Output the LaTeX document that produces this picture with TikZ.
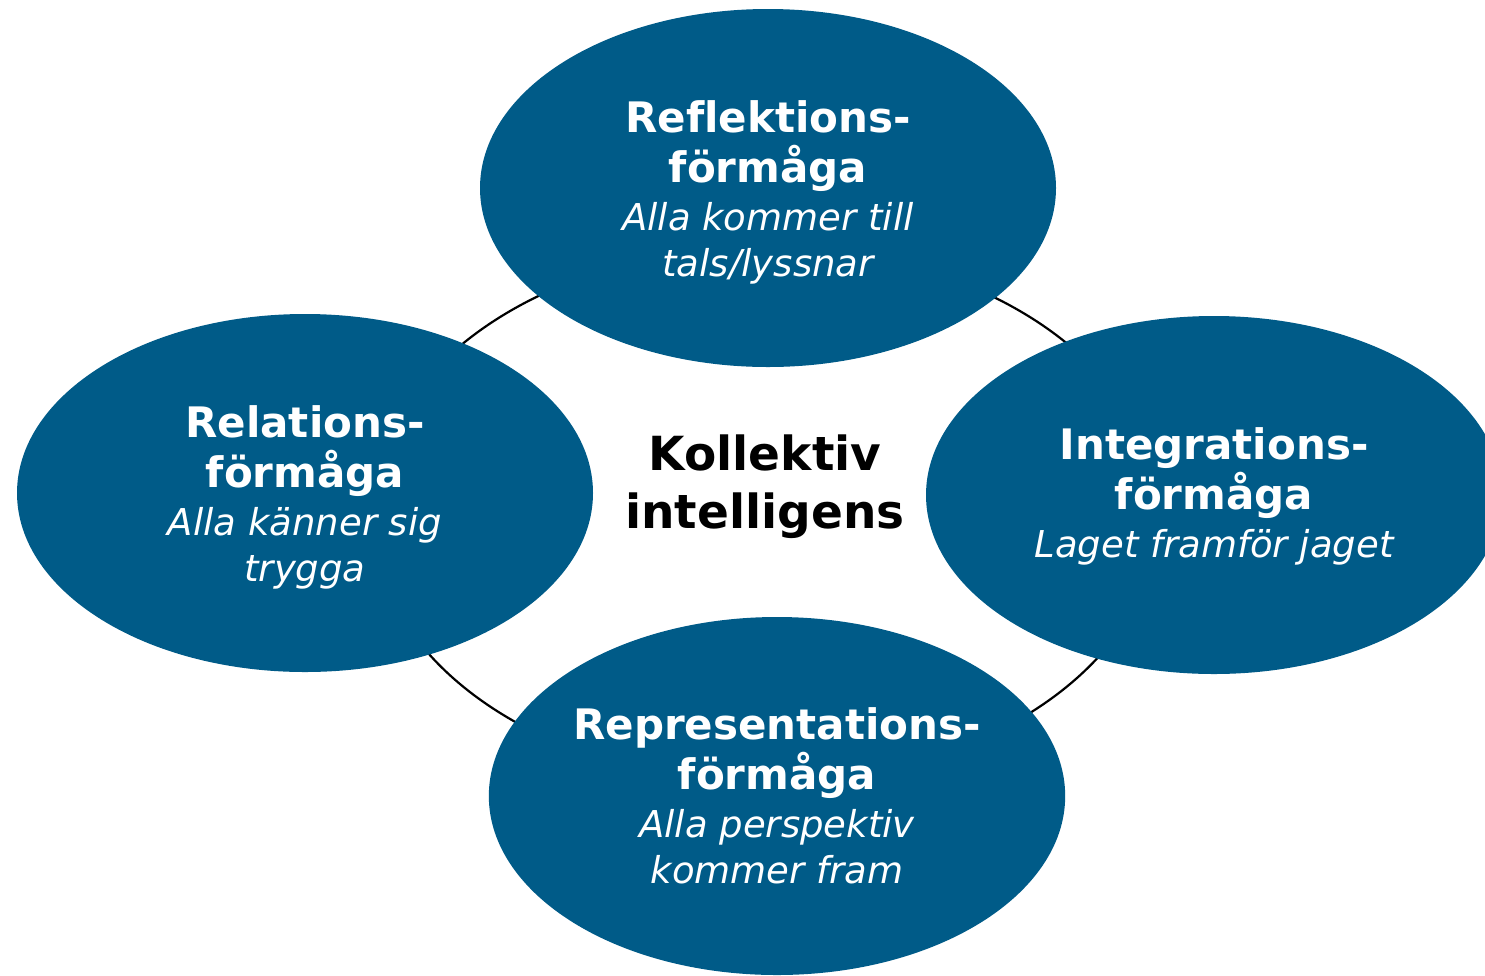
\documentclass[tikz,border=0pt]{standalone}
\usepackage{fontspec}
\setmainfont[Ligatures=NoCommon]{DejaVu Sans}
\usepackage{xcolor}
\usetikzlibrary{shapes.geometric}
\definecolor{abilityblue}{RGB}{0,91,136}
\newcommand{\headfont}{\fontsize{42}{50}\selectfont\bfseries}
\newcommand{\subfont}{\fontsize{37}{46}\selectfont\mdseries\itshape}
\newcommand{\corefont}{\fontsize{47}{58}\selectfont\bfseries}
\tikzstyle{ability} = [ellipse, minimum width=576, minimum height=358, inner sep=0pt, fill=abilityblue, text=white, align=center, font=\headfont]
\tikzstyle{ring} = [ellipse, draw=black, line width=2.2pt, minimum width=786, minimum height=536, inner sep=0pt]
\tikzstyle{core} = [align=center, font=\corefont, text=black]

\begin{document}
\begin{tikzpicture}[x=1pt, y=-1pt]
    \useasboundingbox (0,0) rectangle (1485,975);
    \node (loop) [ring] at (765,515) {};
    \node (center) [core] at (765,487) {Kollektiv\\intelligens};

    % the rules push the text a little down in its ellipse
    \node (reflect) [ability] at (768,188) {\rule{0pt}{40pt}Reflektions-\\förmåga\\[-2pt]{\subfont Alla kommer till}\\[-4pt]{\subfont tals/lyssnar}};
    \node (relate) [ability] at (305,493) {\rule{0pt}{40pt}Relations-\\förmåga\\[-2pt]{\subfont Alla känner sig}\\[-4pt]{\subfont trygga}};
    \node (integrate) [ability] at (1214,495) {\rule{0pt}{35pt}Integrations-\\förmåga\\[-2pt]{\subfont Laget framför jaget}};
    \node (represent) [ability] at (777,796) {Representations-\\förmåga\\[-2pt]{\subfont Alla perspektiv}\\[-4pt]{\subfont kommer fram}};
\end{tikzpicture}
\end{document}
